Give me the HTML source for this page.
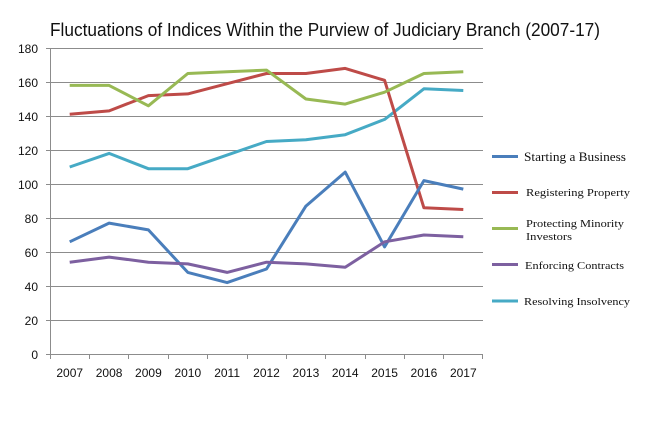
<!DOCTYPE html>
<html><head><meta charset="utf-8"><style>html,body{margin:0;padding:0;background:#fff;}svg{display:block;}</style></head>
<body>
<svg width="655" height="441" viewBox="0 0 655 441" xmlns="http://www.w3.org/2000/svg">
<rect width="655" height="441" fill="#fff"/>
<text x="50" y="36" font-family="Liberation Sans, sans-serif" font-size="18" fill="#111" textLength="550" lengthAdjust="spacingAndGlyphs">Fluctuations of Indices Within the Purview of Judiciary Branch (2007-17)</text>
<g stroke="#8c8c8c" stroke-width="1">
<line x1="46" y1="48.5" x2="483" y2="48.5"/>
<line x1="46" y1="82.5" x2="483" y2="82.5"/>
<line x1="46" y1="116.5" x2="483" y2="116.5"/>
<line x1="46" y1="150.5" x2="483" y2="150.5"/>
<line x1="46" y1="184.5" x2="483" y2="184.5"/>
<line x1="46" y1="218.5" x2="483" y2="218.5"/>
<line x1="46" y1="252.5" x2="483" y2="252.5"/>
<line x1="46" y1="286.5" x2="483" y2="286.5"/>
<line x1="46" y1="320.5" x2="483" y2="320.5"/>
<line x1="46" y1="354.5" x2="483" y2="354.5"/>
<line x1="50.5" y1="48" x2="50.5" y2="359"/>
<line x1="89.5" y1="354" x2="89.5" y2="359"/>
<line x1="128.5" y1="354" x2="128.5" y2="359"/>
<line x1="168.5" y1="354" x2="168.5" y2="359"/>
<line x1="207.5" y1="354" x2="207.5" y2="359"/>
<line x1="247.5" y1="354" x2="247.5" y2="359"/>
<line x1="286.5" y1="354" x2="286.5" y2="359"/>
<line x1="325.5" y1="354" x2="325.5" y2="359"/>
<line x1="365.5" y1="354" x2="365.5" y2="359"/>
<line x1="404.5" y1="354" x2="404.5" y2="359"/>
<line x1="443.5" y1="354" x2="443.5" y2="359"/>
<line x1="482.5" y1="354" x2="482.5" y2="359"/>
</g>
<g font-family="Liberation Sans, sans-serif" font-size="12" fill="#111" text-anchor="end">
<text x="38" y="53">180</text><text x="38" y="87">160</text><text x="38" y="121">140</text>
<text x="38" y="155">120</text><text x="38" y="189">100</text><text x="38" y="223">80</text>
<text x="38" y="257">60</text><text x="38" y="291">40</text><text x="38" y="325">20</text><text x="38" y="359">0</text>
</g>
<g font-family="Liberation Sans, sans-serif" font-size="12" fill="#111" text-anchor="middle">
<text x="69.7" y="377">2007</text><text x="109.1" y="377">2008</text><text x="148.4" y="377">2009</text>
<text x="187.8" y="377">2010</text><text x="227.1" y="377">2011</text><text x="266.5" y="377">2012</text>
<text x="305.9" y="377">2013</text><text x="345.2" y="377">2014</text><text x="384.6" y="377">2015</text>
<text x="423.9" y="377">2016</text><text x="463.3" y="377">2017</text>
</g>
<g fill="none" stroke-width="3" stroke-linejoin="round">
<polyline stroke="#46aac5" points="69.7,167 109.1,153.4 148.4,168.7 187.8,168.7 227.1,155.1 266.5,141.5 305.9,139.8 345.2,134.7 384.6,119.4 423.9,88.8 463.3,90.5"/>
<polyline stroke="#be4b48" points="69.7,114.3 109.1,110.9 148.4,95.6 187.8,93.9 227.1,83.7 266.5,73.5 305.9,73.5 345.2,68.4 384.6,80.3 423.9,207.8 463.3,209.5"/>
<polyline stroke="#98b954" points="69.7,85.4 109.1,85.4 148.4,105.8 187.8,73.5 227.1,71.8 266.5,70.1 305.9,99 345.2,104.1 384.6,92.2 423.9,73.5 463.3,71.8"/>
<polyline stroke="#4a7ebb" points="69.7,241.8 109.1,223.1 148.4,229.9 187.8,272.4 227.1,282.6 266.5,269 305.9,206.1 345.2,172.1 384.6,246.9 423.9,180.6 463.3,189.1"/>
<polyline stroke="#7d60a0" points="69.7,262.2 109.1,257.1 148.4,262.2 187.8,263.9 227.1,272.4 266.5,262.2 305.9,263.9 345.2,267.3 384.6,241.8 423.9,235 463.3,236.7"/>
</g>
<g stroke-width="3">
<line x1="492" y1="156.5" x2="518" y2="156.5" stroke="#4a7ebb"/>
<line x1="492" y1="192.5" x2="518" y2="192.5" stroke="#be4b48"/>
<line x1="492" y1="228.5" x2="518" y2="228.5" stroke="#98b954"/>
<line x1="492" y1="264.5" x2="518" y2="264.5" stroke="#7d60a0"/>
<line x1="492" y1="301" x2="518" y2="301" stroke="#46aac5"/>
</g>
<g font-family="Liberation Serif, serif" fill="#111">
<text x="524" y="161" font-size="12.5" textLength="102" lengthAdjust="spacingAndGlyphs">Starting a Business</text>
<text x="526" y="196" font-size="11" textLength="104" lengthAdjust="spacingAndGlyphs">Registering Property</text>
<text x="526" y="227" font-size="11" textLength="98" lengthAdjust="spacingAndGlyphs">Protecting Minority</text>
<text x="526" y="240" font-size="11" textLength="46" lengthAdjust="spacingAndGlyphs">Investors</text>
<text x="525" y="269" font-size="11" textLength="99" lengthAdjust="spacingAndGlyphs">Enforcing Contracts</text>
<text x="524" y="305" font-size="11" textLength="106" lengthAdjust="spacingAndGlyphs">Resolving Insolvency</text>
</g>
</svg>
</body></html>
